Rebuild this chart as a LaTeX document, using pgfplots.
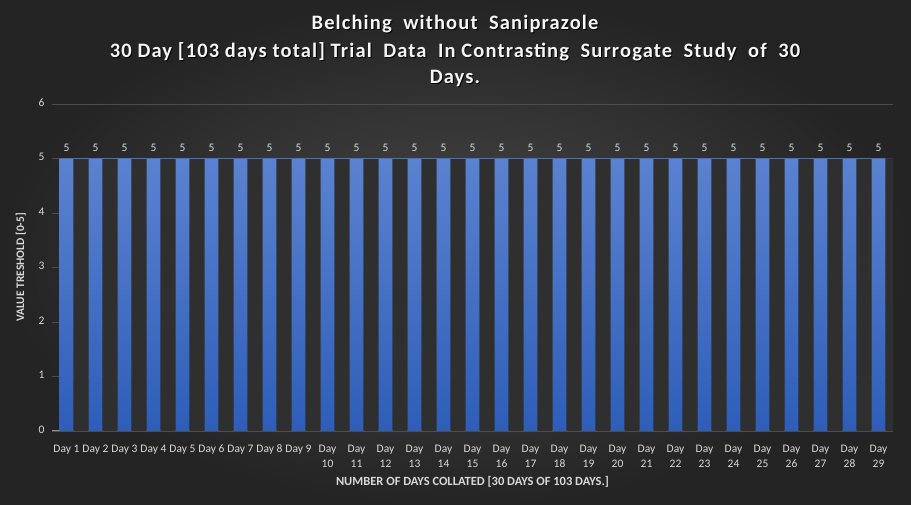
\documentclass[border=0pt]{standalone}
\usepackage{pgfplots}
\pgfplotsset{compat=1.18}
\usepackage{fontspec}
\setmainfont{Carlito}
\newfontfamily\titlefont[LetterSpace=5.5]{Carlito}
\definecolor{bgin}{HTML}{484848}
\definecolor{bgout}{HTML}{242424}
\definecolor{barTop}{HTML}{5B82D0}
\definecolor{barBot}{HTML}{2E5EB8}
\definecolor{darkbar}{HTML}{2F2F2F}
\definecolor{gridc}{HTML}{4D4D4D}
\definecolor{axisc}{HTML}{8F8F8F}
\definecolor{txt}{HTML}{D9D9D9}
\definecolor{linec}{HTML}{4472C4}
\begin{document}
\begin{tikzpicture}[x=1pt,y=1pt]
\shade[inner color=bgin, outer color=bgout] (0,0) rectangle (911,505);
% title, three lines with a slight shadow
\foreach \dx/\dy/\c in {1/-1/black, 0/0/white!96!black}{
  \begin{scope}[every node/.style={text=\c, font=\titlefont\fontsize{20.5}{24}\selectfont\bfseries}]
  \node at (455+\dx,481+\dy) {Belching\ \ without\ \ Saniprazole};
  \node at (455+\dx,453+\dy) {30 Day [103 days total] Trial\ \ Data\ \ In Contrasting\ \ Surrogate\ \ Study\ \ of\ \ 30};
  \node at (455+\dx,427+\dy) {Days.};
  \end{scope}
}
\begin{axis}[
  at={(52pt,74pt)}, anchor=south west,
  width=841pt, height=327pt, scale only axis,
  xmin=-0.5, xmax=28.5, ymin=0, ymax=6,
  ytick={0,1,2,3,4,5,6},
  xtick={0,...,28},
  xticklabels={Day 1,Day 2,Day 3,Day 4,Day 5,Day 6,Day 7,Day 8,Day 9,
    {Day\\10},{Day\\11},{Day\\12},{Day\\13},{Day\\14},{Day\\15},{Day\\16},{Day\\17},{Day\\18},{Day\\19},
    {Day\\20},{Day\\21},{Day\\22},{Day\\23},{Day\\24},{Day\\25},{Day\\26},{Day\\27},{Day\\28},{Day\\29}},
  typeset ticklabels with strut,
  xticklabel style={align=center, font=\fontsize{11.5}{15}\selectfont, text=txt, anchor=north, yshift=-7pt},
  yticklabel style={font=\fontsize{11.5}{12}\selectfont, text=txt, xshift=-4pt},
  /pgf/number format/assume math mode=true,
  major tick length=0pt,
  ymajorgrids, grid style={gridc, line width=0.8pt},
  axis lines*=left,
  y axis line style={draw=none},
  x axis line style={axisc, line width=1pt},
  xlabel={NUMBER OF DAYS COLLATED [30 DAYS OF 103 DAYS.]},
  xlabel style={font=\fontsize{12.5}{13}\selectfont\bfseries, text=txt, yshift=-2pt},
  ylabel={VALUE TRESHOLD [0-5]},
  ylabel style={font=\fontsize{11.5}{12}\selectfont\bfseries, text=txt, yshift=6pt},
  clip=true,
]
\addplot[ybar, bar width=0.52, bar shift=0.5, fill=darkbar, draw=none] coordinates {
(0,5)(1,5)(2,5)(3,5)(4,5)(5,5)(6,5)(7,5)(8,5)(9,5)(10,5)(11,5)(12,5)(13,5)(14,5)
(15,5)(16,5)(17,5)(18,5)(19,5)(20,5)(21,5)(22,5)(23,5)(24,5)(25,5)(26,5)(27,5)(28,5)};
\addplot[ybar, bar width=0.48, bar shift=0, draw=none, top color=barTop, bottom color=barBot,
  nodes near coords, nodes near coords style={font=\fontsize{11.5}{12}\selectfont, text=txt, yshift=3pt},
  point meta=y] coordinates {
(0,5)(1,5)(2,5)(3,5)(4,5)(5,5)(6,5)(7,5)(8,5)(9,5)(10,5)(11,5)(12,5)(13,5)(14,5)
(15,5)(16,5)(17,5)(18,5)(19,5)(20,5)(21,5)(22,5)(23,5)(24,5)(25,5)(26,5)(27,5)(28,5)};
\addplot[linec, line width=1.2pt, no marks] coordinates {(0,5)(28,5)};
\end{axis}
\end{tikzpicture}
\end{document}
